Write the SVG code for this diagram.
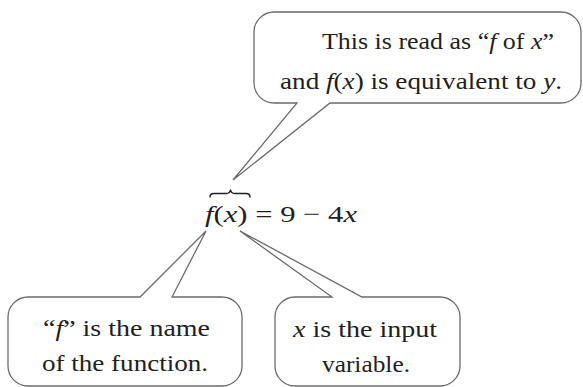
<svg xmlns="http://www.w3.org/2000/svg" width="583" height="387" viewBox="0 0 583 387">
<style>
.c{fill:#fff;stroke:#6b6b6b;stroke-width:1.3;stroke-linejoin:miter}
.t{font-size:24px;fill:#231f20}
.i{font-style:italic}
.b{fill:none;stroke:#231f20;stroke-width:1.4;stroke-linecap:round}
</style>
<rect width="583" height="387" fill="#fff"/>
<g id="connectors">
<path class="b" d="M210 197 Q210 193.5 214 193.5 H226 Q230 193.5 230.5 189.5 Q231 193.5 235 193.5 H246 Q250 193.5 250 197"/>
</g>
<g font-family="Liberation Serif, serif">
<g id="callout-top">
<path class="c" d="M274 12 H561 A20 20 0 0 1 581 32 V83 A20 20 0 0 1 561 103 H330 L233 180 L297 103 H274 A20 20 0 0 1 254 83 V32 A20 20 0 0 1 274 12 Z"/>
<text class="t" x="322" y="49" textLength="232" lengthAdjust="spacingAndGlyphs">This is read as “<tspan class="i">f</tspan> of <tspan class="i">x</tspan>”</text>
<text class="t" x="280" y="89" textLength="282" lengthAdjust="spacingAndGlyphs">and <tspan class="i">f</tspan>(<tspan class="i">x</tspan>) is equivalent to <tspan class="i">y</tspan>.</text>
</g>
<g id="equation">
<text class="t" x="205" y="222" textLength="152" lengthAdjust="spacingAndGlyphs"><tspan class="i">f</tspan>(<tspan class="i">x</tspan>) = 9 − 4<tspan class="i">x</tspan></text>
</g>
<g id="callout-left">
<path class="c" d="M28 297 H140 L206 231 L172 297 H222 A20 20 0 0 1 242 317 V366 A20 20 0 0 1 222 386 H28 A20 20 0 0 1 8 366 V317 A20 20 0 0 1 28 297 Z"/>
<text class="t" x="43" y="336" textLength="167" lengthAdjust="spacingAndGlyphs">“<tspan class="i">f</tspan>” is the name</text>
<text class="t" x="42" y="371" textLength="166" lengthAdjust="spacingAndGlyphs">of the function.</text>
</g>
<g id="callout-right">
<path class="c" d="M295 297 H332 L240 231 L362 297 H440 A20 20 0 0 1 460 317 V366 A20 20 0 0 1 440 386 H295 A20 20 0 0 1 275 366 V317 A20 20 0 0 1 295 297 Z"/>
<text class="t" x="293" y="337" textLength="144" lengthAdjust="spacingAndGlyphs"><tspan class="i">x</tspan> is the input</text>
<text class="t" x="322" y="372" textLength="88" lengthAdjust="spacingAndGlyphs">variable.</text>
</g>
</g>
</svg>
